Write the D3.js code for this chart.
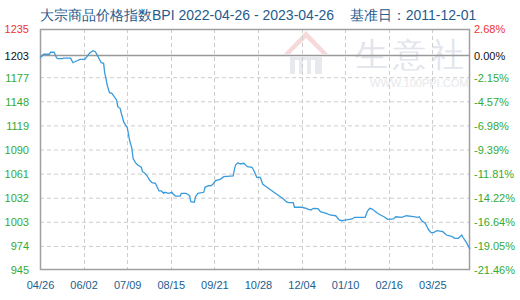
<!DOCTYPE html>
<html>
<head>
<meta charset="utf-8">
<script src="https://cdn.jsdelivr.net/npm/d3@7"></script>
<style>
  body { margin: 0; background: #fff; }
  svg { display: block; }
  text { font-family: "Liberation Sans", Arial, sans-serif; }
</style>
</head>
<body>
<div id="chart"></div>
<script>
// BPI daily values
var dates = ["2022-04-26","2022-04-28","2022-04-29","2022-05-04","2022-05-05","2022-05-08","2022-05-10","2022-05-11","2022-05-15","2022-05-16",
  "2022-05-22","2022-05-24","2022-05-26","2022-05-30","2022-06-03","2022-06-07","2022-06-10","2022-06-12","2022-06-15","2022-06-17",
  "2022-06-19","2022-06-20","2022-06-21","2022-06-22","2022-06-24","2022-06-26","2022-06-28","2022-06-30","2022-07-01","2022-07-03",
  "2022-07-04","2022-07-06","2022-07-08","2022-07-09","2022-07-10","2022-07-11","2022-07-13","2022-07-14","2022-07-16","2022-07-18",
  "2022-07-21","2022-07-22","2022-07-24","2022-07-26","2022-07-28","2022-07-30","2022-08-02","2022-08-04","2022-08-05","2022-08-07",
  "2022-08-09","2022-08-10","2022-08-13","2022-08-16","2022-08-17","2022-08-19","2022-08-23","2022-08-24","2022-08-28","2022-08-31",
  "2022-09-01","2022-09-04","2022-09-05","2022-09-07","2022-09-12","2022-09-13","2022-09-16","2022-09-18","2022-09-20","2022-09-22",
  "2022-09-26","2022-09-29","2022-10-07","2022-10-08","2022-10-09","2022-10-11","2022-10-13","2022-10-16","2022-10-19","2022-10-23",
  "2022-10-25","2022-10-27","2022-10-30","2022-11-01","2022-11-04","2022-11-07","2022-11-10","2022-11-13","2022-11-16","2022-11-18",
  "2022-11-21","2022-11-23","2022-11-27","2022-11-28","2022-12-04","2022-12-08","2022-12-10","2022-12-12","2022-12-14","2022-12-18",
  "2022-12-20","2022-12-25","2022-12-28","2023-01-02","2023-01-05","2023-01-07","2023-01-11","2023-01-16","2023-01-18","2023-01-27",
  "2023-01-29","2023-01-31","2023-02-02","2023-02-06","2023-02-09","2023-02-12","2023-02-15","2023-02-20","2023-02-22","2023-02-27",
  "2023-03-03","2023-03-09","2023-03-13","2023-03-14","2023-03-16","2023-03-19","2023-03-22","2023-03-24","2023-03-26","2023-03-29",
  "2023-04-03","2023-04-06","2023-04-11","2023-04-13","2023-04-16","2023-04-19","2023-04-20","2023-04-23","2023-04-26"];
var values = [1200.5,1202.9,1204.6,1204.6,1207.0,1207.0,1200.5,1199.3,1199.3,1200.0,
  1200.0,1194.4,1195.9,1198.5,1198.5,1205.8,1208.9,1207.7,1199.7,1194.4,
  1193.7,1181.7,1175.7,1167.6,1158.3,1157.6,1153.5,1149.6,1141.5,1139.6,
  1133.6,1123.5,1118.3,1116.7,1109.5,1101.4,1091.4,1079.4,1074.1,1071.3,
  1068.6,1063.3,1061.4,1058.1,1053.3,1050.1,1049.3,1043.3,1040.1,1040.1,
  1037.3,1038.5,1037.3,1038.5,1036.5,1034.0,1034.0,1037.3,1037.3,1034.4,
  1027.2,1026.5,1033.2,1037.3,1038.5,1044.5,1046.4,1046.4,1048.5,1052.5,
  1054.1,1057.3,1058.1,1066.2,1071.3,1074.1,1072.6,1073.4,1069.3,1068.6,
  1063.3,1056.5,1056.5,1048.5,1045.2,1042.1,1039.2,1036.1,1033.2,1031.3,
  1027.2,1026.0,1026.0,1020.5,1020.5,1019.2,1018.0,1017.2,1019.2,1018.8,
  1015.2,1013.2,1011.2,1010.3,1005.2,1004.3,1005.2,1006.4,1008.4,1008.4,
  1016.0,1019.2,1018.4,1013.9,1011.2,1009.1,1006.0,1006.4,1009.1,1008.4,
  1010.3,1009.1,1008.4,1009.1,1004.3,1001.2,993.1,989.9,989.9,992.3,
  991.1,987.1,985.1,983.1,983.1,987.1,984.4,977.9,969.9];

var yTicks = [945,974,1003,1032,1061,1090,1119,1148,1177,1203,1235];
var pctLabels = ["-21.46%","-19.05%","-16.64%","-14.22%","-11.81%","-9.39%","-6.98%","-4.57%","-2.15%","0.00%","2.68%"];
var xTicks = ["2022-04-26","2022-06-02","2022-07-09","2022-08-15","2022-09-21","2022-10-28","2022-12-04","2023-01-10","2023-02-16","2023-03-25"];
var baseValue = 1203;
var titleText = "大宗商品价格指数BPI 2022-04-26 - 2023-04-26    基准日：2011-12-01";

var W = 520, H = 300;
var m = {left: 40, right: 50, top: 29, bottom: 30};
var parse = d3.timeParse("%Y-%m-%d");

var svg = d3.select("#chart").append("svg")
  .attr("width", W)
  .attr("height", H);

var x = d3.scaleTime()
  .domain([parse("2022-04-26"), parse("2023-04-26")])
  .range([m.left, W - m.right]);
var y = d3.scaleLinear()
  .domain([945, 1235])
  .range([H - m.bottom, m.top]);

var colorOf = function(v){
  if (v > baseValue) return "#ee3333";
  if (v == baseValue) return "#111111";
  return "#33aa33";
};

// watermark
var wm = svg.append("g").attr("opacity", 0.9);
wm.append("path")
  .attr("d", "M284,54 L306,31 L328,54 L322,54 L306,38 L290,54 Z")
  .attr("fill", "#f6d6d6");
wm.append("path")
  .attr("d", "M290,57 L322,57 L322,74 L290,74 Z")
  .attr("fill", "#e4e8ee");
[295, 303, 311].forEach(function(px){
  wm.append("rect").attr("x", px).attr("y", 60).attr("width", 4).attr("height", 14).attr("fill", "#fff");
});
wm.append("text")
  .attr("x", 355).attr("y", 66)
  .attr("font-family", "Noto Sans CJK SC")
  .attr("font-size", 33)
  .attr("letter-spacing", 5)
  .attr("fill", "#dfe3ea")
  .text("生意社");
wm.append("text")
  .attr("x", 370).attr("y", 87)
  .attr("font-size", 11)
  .attr("fill", "#e4e6ea")
  .text("WWW.100PPI.COM");

// grid
var grid = svg.append("g");
grid.selectAll(".hg")
  .data(yTicks.filter(function(d){ return d != baseValue && d != 945 && d != 1235; }))
  .enter().append("line")
  .attr("x1", m.left).attr("x2", W - m.right)
  .attr("y1", function(d){ return y(d) + 0.5; })
  .attr("y2", function(d){ return y(d) + 0.5; })
  .attr("stroke", "#cccccc")
  .attr("stroke-dasharray", "4,3");
grid.selectAll(".vg")
  .data(xTicks.slice(1))
  .enter().append("line")
  .attr("x1", function(d){ return Math.round(x(parse(d))) + 0.5; })
  .attr("x2", function(d){ return Math.round(x(parse(d))) + 0.5; })
  .attr("y1", m.top).attr("y2", H - m.bottom)
  .attr("stroke", "#cccccc")
  .attr("stroke-dasharray", "4,3");

// frame + base line
svg.append("rect")
  .attr("x", m.left + 0.5).attr("y", m.top + 0.5)
  .attr("width", W - m.left - m.right - 1)
  .attr("height", H - m.top - m.bottom - 1)
  .attr("fill", "none")
  .attr("stroke", "#a0a0a0")
  .attr("stroke-width", 1.5);
svg.append("line")
  .attr("x1", m.left).attr("x2", W - m.right)
  .attr("y1", y(baseValue)).attr("y2", y(baseValue))
  .attr("stroke", "#999999")
  .attr("stroke-width", 1.5);

// line
var data = dates.map(function(d, i){ return {date: parse(d), value: values[i]}; });
var line = d3.line()
  .x(function(d){ return x(d.date); })
  .y(function(d){ return y(d.value); });
svg.append("path")
  .datum(data)
  .attr("d", line)
  .attr("fill", "none")
  .attr("stroke", "#3a9bdc")
  .attr("stroke-width", 1.3);

// left axis
var leftAxis = svg.append("g")
  .attr("transform", "translate(" + (m.left - 11) + ",0)")
  .call(d3.axisLeft(y).tickValues(yTicks).tickSize(0).tickPadding(0).tickFormat(d3.format("d")));
leftAxis.select(".domain").remove();
leftAxis.selectAll("text")
  .attr("font-family", "Liberation Sans")
  .attr("font-size", 11)
  .attr("dy", "0.36em")
  .attr("fill", function(d){ return colorOf(d); });

// right axis
var rightAxis = svg.append("g")
  .attr("transform", "translate(" + (W - m.right + 4) + ",0)")
  .call(d3.axisRight(y).tickValues(yTicks).tickSize(0).tickPadding(0)
    .tickFormat(function(d, i){ return pctLabels[i]; }));
rightAxis.select(".domain").remove();
rightAxis.selectAll("text")
  .attr("font-family", "Liberation Sans")
  .attr("font-size", 11)
  .attr("dy", "0.36em")
  .attr("fill", function(d){ return colorOf(d); });

// bottom axis
var bottomAxis = svg.append("g")
  .attr("transform", "translate(0," + (H - m.bottom) + ")")
  .call(d3.axisBottom(x).tickValues(xTicks.map(parse)).tickSize(0).tickPadding(11)
    .tickFormat(d3.timeFormat("%m/%d")));
bottomAxis.select(".domain").remove();
bottomAxis.selectAll("text")
  .attr("font-family", "Liberation Sans")
  .attr("font-size", 11)
  .attr("fill", "#1a5e8e");

// title
svg.append("text")
  .attr("x", m.left)
  .attr("y", 20)
  .attr("font-family", "'Noto Sans CJK SC', sans-serif")
  .attr("font-size", 14)
  .attr("fill", "#1f5b8c")
  .attr("xml:space", "preserve")
  .style("white-space", "pre")
  .text(titleText);
</script>
</body>
</html>
